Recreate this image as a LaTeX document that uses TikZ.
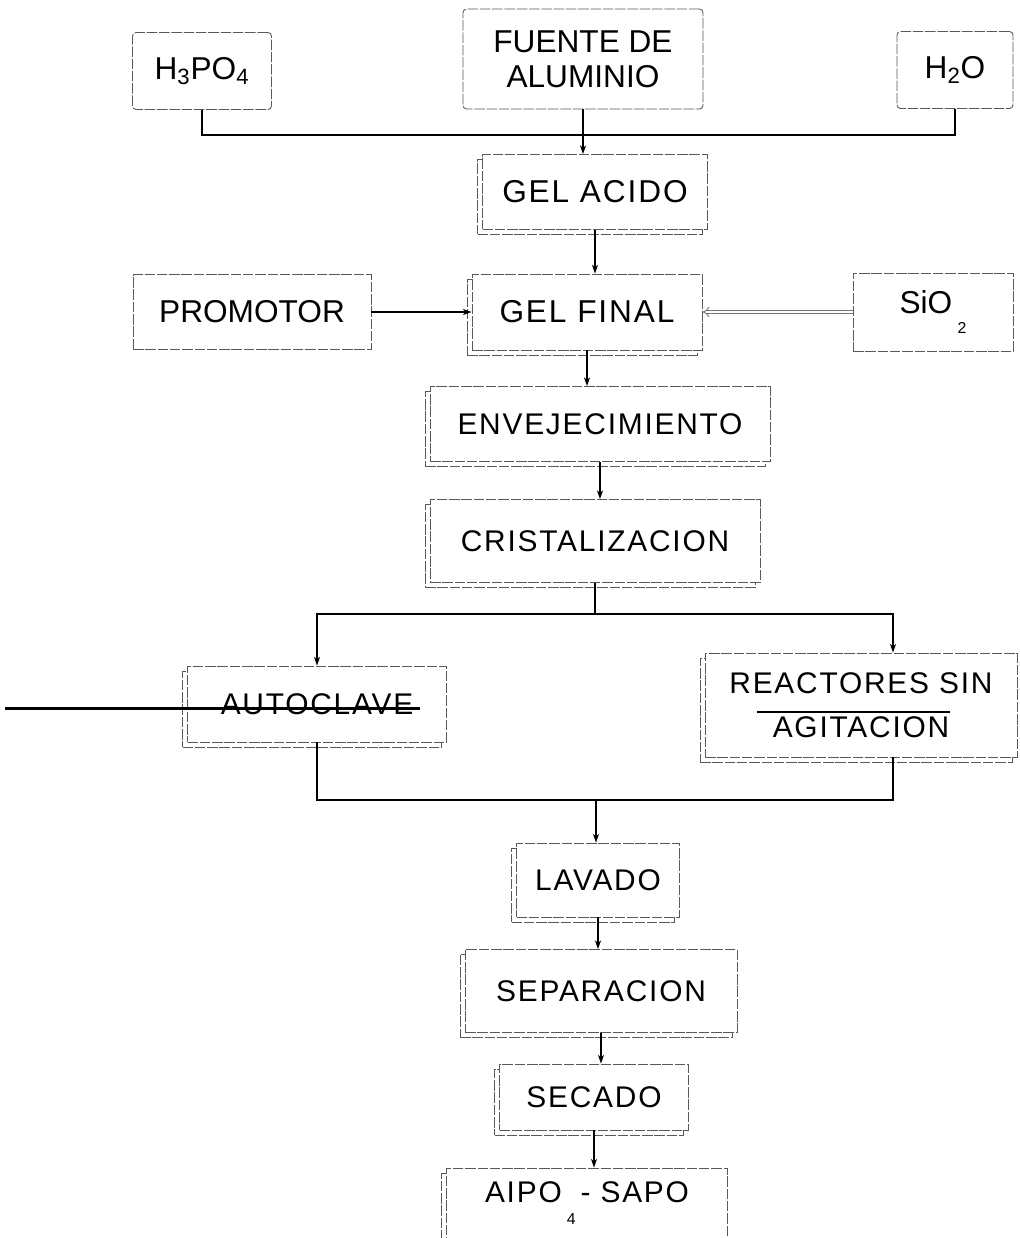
\documentclass[tikz,border=0pt]{standalone}
\usepackage{fontspec}
\setmainfont{Liberation Sans}
\newfontfamily\spacedfont[LetterSpace=6]{Liberation Sans}
\usetikzlibrary{arrows.meta,shadows,calc}

\begin{document}
\begin{tikzpicture}[x=0.02cm, y=-0.02cm,
	inbox/.style={draw=black!65, line width=0.5pt, dash pattern=on 6pt off 1pt, rounded corners=2pt, fill=white, font=\fontsize{18}{20}\selectfont, align=center, inner sep=0pt},
	stepbox/.style={draw=black!65, line width=0.5pt, dash pattern=on 6pt off 1pt, fill=white, font=\spacedfont\fontsize{17}{20}\selectfont, align=center, inner sep=0pt, copy shadow={shadow xshift=-0.1cm, shadow yshift=-0.1cm}},
	link/.style={line width=0.8pt},
	arr/.style={line width=0.8pt, -{Stealth[length=5pt,width=3.5pt]}}]
	\useasboundingbox (0,0) rectangle (1019,1238);
	\node[inbox, minimum width=2.78cm, minimum height=1.54cm] (h3po4) at (202,71) {H\textsubscript{3}PO\textsubscript{4}};
	\node[inbox, minimum width=4.8cm, minimum height=2cm] (fuente) at (583,59) {FUENTE DE\\ALUMINIO};
	\node[inbox, minimum width=2.32cm, minimum height=1.54cm] (h2o) at (955,70) {H\textsubscript{2}O};
	\node[stepbox, font=\spacedfont\fontsize{18}{20}\selectfont, minimum width=4.5cm, minimum height=1.5cm] (gelacido) at (595,192) {GEL ACIDO};
	\node[inbox, rounded corners=0pt, minimum width=4.76cm, minimum height=1.5cm] (promotor) at (252,312) {PROMOTOR};
	\node[stepbox, font=\spacedfont\fontsize{18}{20}\selectfont, minimum width=4.6cm, minimum height=1.52cm] (gelfinal) at (587,312) {GEL FINAL};
	\node[inbox, rounded corners=0pt, minimum width=3.2cm, minimum height=1.56cm] (sio2) at (933,312) {SiO\,\raisebox{-1.2ex}{\small 2}};
	\node[stepbox, minimum width=6.8cm, minimum height=1.5cm] (envej) at (600,424) {ENVEJECIMIENTO};
	\node[stepbox, minimum width=6.6cm, minimum height=1.66cm] (crist) at (595,541) {CRISTALIZACION};
	\node[stepbox, minimum width=5.18cm, minimum height=1.52cm] (autoclave) at (317,704) {AUTOCLAVE};
	\node[stepbox, minimum width=6.24cm, minimum height=2.08cm] (reactores) at (861,705) {REACTORES SIN\\[5pt]AGITACION};
	\node[stepbox, minimum width=3.26cm, minimum height=1.48cm] (lavado) at (598,880) {LAVADO};
	\node[stepbox, minimum width=5.44cm, minimum height=1.66cm] (separacion) at (601,991) {SEPARACION};
	\node[stepbox, minimum width=3.78cm, minimum height=1.32cm] (secado) at (594,1097) {SECADO};
	\node[stepbox, minimum width=5.62cm, minimum height=1.4cm] (aipo) at (587,1203) {AIPO\,\raisebox{-1.4ex}{\small 4}\,- SAPO};
	\coordinate (topjoin) at (587,135);
	\coordinate (split) at (594,614);
	\coordinate (merge) at (596,800);
	\coordinate (strike) at (5,708);
	\coordinate (strikeend) at (420,708);
	\draw[link] (h3po4) |- (topjoin) -| (h2o);
	\draw[arr] (fuente.south) -- (fuente.south |- gelacido.north);
	\draw[arr] (gelacido.south) -- (gelacido.south |- gelfinal.north);
	\draw[arr] (promotor) -- (gelfinal);
	\draw[black!55, double, double distance=1.6pt, line width=0.5pt, -{Implies}] (sio2) -- (gelfinal);
	\draw[arr] (gelfinal.south) -- (gelfinal.south |- envej.north);
	\draw[arr] (envej.south) -- (envej.south |- crist.north);
	\draw[link] (crist.south) -- (crist.south |- split);
	\draw[arr] (split) -| (autoclave);
	\draw[arr] (split) -| ($(reactores.north)+(32,0)$);
	\draw[link] (autoclave) |- (merge);
	\draw[link] ($(reactores.south)+(32,0)$) |- (merge);
	\draw[arr] (merge) -- (merge |- lavado.north);
	\draw[arr] (lavado.south) -- (lavado.south |- separacion.north);
	\draw[arr] (separacion.south) -- (separacion.south |- secado.north);
	\draw[arr] (secado.south) -- (secado.south |- aipo.north);
	\draw[line width=1.7pt] (strike) -- (strikeend);
	\draw[line width=0.8pt] ($(reactores.center)+(-104,7)$) -- ($(reactores.center)+(89,7)$);
\end{tikzpicture}
\end{document}
